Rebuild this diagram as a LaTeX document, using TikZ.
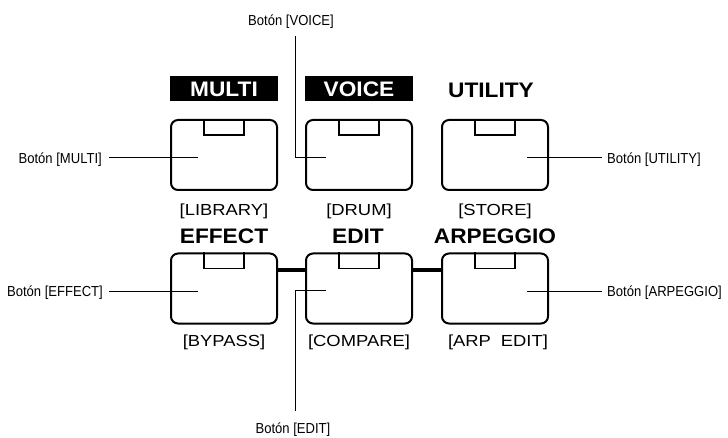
\documentclass[tikz,border=0pt]{standalone}
\usepackage{fontspec}
\setmainfont{Liberation Sans}
\newfontfamily\titlefont[FakeStretch=1.08]{Liberation Sans}
\newfontfamily\subfont[FakeStretch=1.15]{Liberation Sans}
\newfontfamily\leadfont[FakeStretch=0.9]{Liberation Sans}
\tikzset{
  btn/.style={draw, line width=2pt, rounded corners=7pt, minimum width=106pt, minimum height=70pt, inner sep=0pt},
  led/.style={line width=1.2pt},
  title/.style={font=\titlefont\bfseries\fontsize{21}{21}\selectfont, inner sep=0pt, anchor=base},
  invtitle/.style={fill=black, text=white, font=\titlefont\bfseries\fontsize{21}{21}\selectfont, minimum width=108pt, minimum height=25pt, inner sep=0pt},
  sub/.style={font=\subfont\fontsize{16}{16}\selectfont, inner sep=0pt, anchor=base},
  lead/.style={font=\leadfont\fontsize{14.5}{14.5}\selectfont, inner sep=0pt},
  leader/.style={line width=1pt},
  bar/.style={line width=4pt},
}
\begin{document}
\begin{tikzpicture}[x=1pt,y=-1pt]
\useasboundingbox (0,0) rectangle (728,438);
% buttons
\node[btn] (bMulti) at (224,155) {};
\node[btn] (bVoice) at (359,155) {};
\node[btn] (bUtil) at (495,155) {};
\node[btn] (bEffect) at (224,288.5) {};
\node[btn] (bEdit) at (359,288.5) {};
\node[btn] (bArp) at (495,288.5) {};
\foreach \b in {bMulti,bVoice,bUtil,bEffect,bEdit,bArp}
  \draw[led] ([xshift=-20pt]\b.north) -- ++(0,16) -- ++(40,0) -- ++(0,-16);
% bars
\draw[bar] ([yshift=18.5pt]bEffect.east) -- ([yshift=18.5pt]bEdit.west);
\draw[bar] ([yshift=18.5pt]bEdit.east) -- ([yshift=18.5pt]bArp.west);
% titles
\node[invtitle] (tMulti) at (224,89) {MULTI};
\node[invtitle] (tVoice) at (359,89) {VOICE};
\node[title] (tUtil) at (491,98) {UTILITY};
\node[title] (tEffect) at (224,243.5) {EFFECT};
\node[title] (tEdit) at (358,243.5) {EDIT};
\node[title] (tArp) at (495,243.5) {ARPEGGIO};
% sub labels
\node[sub] (sLib) at (224,216) {[LIBRARY]};
\node[sub] (sDrum) at (359,216) {[DRUM]};
\node[sub] (sStore) at (495,216) {[STORE]};
\node[sub] (sBypass) at (224,346) {[BYPASS]};
\node[sub] (sCompare) at (359,346) {[COMPARE]};
\node[sub] (sArpEdit) at (498,346) {[ARP\hspace{0.3em} EDIT]};
% leader labels
\node[lead, anchor=east] (lMulti) at (102,160) {Botón [MULTI]};
\node[lead, anchor=west] (lUtil) at (607,160) {Botón [UTILITY]};
\node[lead, anchor=east] (lEffect) at (103,293) {Botón [EFFECT]};
\node[lead, anchor=west] (lArp) at (607,293) {Botón [ARPEGGIO]};
\node[lead] (lVoice) at (291,22) {Botón [VOICE]};
\node[lead] (lEdit) at (293,430) {Botón [EDIT]};
% leader points
\coordinate (pMulti) at (198,158);
\coordinate (pUtil) at (527,158);
\coordinate (pEffect) at (198,292);
\coordinate (pArp) at (527,292);
\coordinate (cVoice) at (295,158);
\coordinate (pVoice) at (326,158);
\coordinate (cEdit) at (295,291);
\coordinate (pEdit) at (326,291);
\path (lEdit.north -| cEdit) ++(0,-12) coordinate (eEdit);
\path (lVoice.south -| cVoice) ++(0,7) coordinate (eVoice);
% leaders
\draw[leader] (pMulti -| lMulti.east) ++(7,0) -- (pMulti);
\draw[leader] (pEffect -| lEffect.east) ++(6,0) -- (pEffect);
\draw[leader] (pUtil -| lUtil.west) ++(-5,0) -- (pUtil);
\draw[leader] (pArp -| lArp.west) ++(-5,0) -- (pArp);
\draw[leader] (eVoice) -- (cVoice) -- (pVoice);
\draw[leader] (pEdit) -- (cEdit) -- (eEdit);
\end{tikzpicture}
\end{document}
